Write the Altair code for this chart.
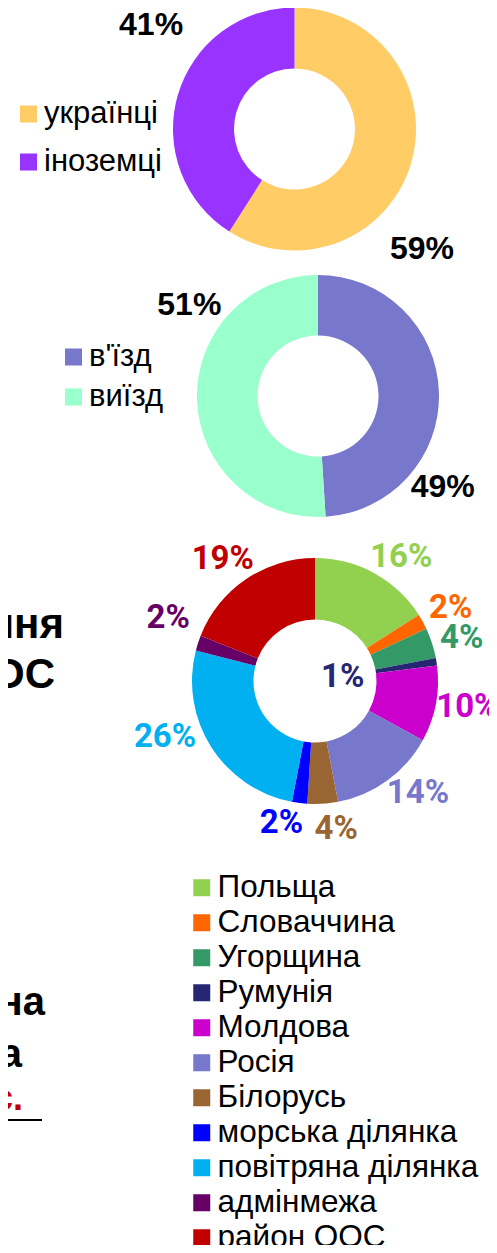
import math
import altair as alt
import pandas as pd

# ---- data ----
c1_cats = ["українці", "іноземці"]
c1_vals = [59, 41]
c1_colors = ["#FFCC66", "#9933FF"]

c2_cats = ["в'їзд", "виїзд"]
c2_vals = [49, 51]
c2_colors = ["#7777CC", "#99FFCC"]

c3_cats = ["Польща", "Словаччина", "Угорщина", "Румунія", "Молдова", "Росія",
           "Білорусь", "морська ділянка", "повітряна ділянка", "адмінмежа", "район ООС"]
c3_vals = [16, 2, 4, 1, 10, 14, 4, 2, 26, 2, 19]
c3_colors = ["#92D050", "#FF6600", "#339966", "#262673", "#CC00CC", "#7777CC",
             "#996633", "#0000FF", "#00B0F0", "#660066", "#C00000"]

side_texts = ["ння", "ОС", "на", "а", "с."]

# ---- layout / style ----
FONT = "Liberation Sans"
LABFONT3 = "Roboto"
TAU = 2 * math.pi
# label nudges (dx, dy) for the third ring, like the original "best fit" placement
C3_NUDGE = [(15, 6), (6, -2), (6, 3), (0, 0), (7, -2), (16, -8), (12, 0),
            (-15, -5), (-25, -23), (-6, -17), (-9, 0)]


def frame(cats, vals):
    return pd.DataFrame({"cat": cats, "value": vals, "idx": list(range(len(cats)))})


def leg(x, y, size, rowpad, off):
    return alt.Legend(orient="none", legendX=x, legendY=y, title=None,
                      symbolType="square", symbolSize=289, symbolStrokeWidth=0,
                      symbolOpacity=1, labelFont=FONT, labelFontSize=size,
                      labelColor="black", labelOffset=off, rowPadding=rowpad,
                      padding=0, labelLimit=400)


def ring(df, cats, colors, cx, cy, r0, r1, legend):
    return alt.Chart(df).mark_arc(innerRadius=r0, outerRadius=r1, strokeWidth=0).encode(
        x=alt.value(cx), y=alt.value(cy),
        theta=alt.Theta("value:Q", stack=True),
        order=alt.Order("idx:Q"),
        color=alt.Color("cat:N", scale=alt.Scale(domain=cats, range=colors), legend=legend),
    )


def labels(df, cx, cy, radius, rot_deg, font, size, dx=0, dy=0,
           cats=None, colors=None, cond="true"):
    rot = math.radians(rot_deg)
    base = (alt.Chart(df)
            .transform_window(cum="sum(value)", sort=[alt.SortField("idx")], frame=[None, 0])
            .transform_calculate(mid="datum.cum - datum.value / 2",
                                 lab="datum.value + '%'")
            .transform_filter(cond))
    props = dict(radius=radius, font=font, fontSize=size, fontWeight="bold",
                 dx=dx, dy=dy, align="center", baseline="middle")
    enc = dict(x=alt.value(cx), y=alt.value(cy),
               theta=alt.Theta("mid:Q", stack=False,
                               scale=alt.Scale(domain=[0, 100], range=[rot, rot + TAU])),
               text="lab:N")
    if cats is None:
        return base.mark_text(color="black", **props).encode(**enc)
    return base.mark_text(**props).encode(
        color=alt.Color("cat:N", scale=alt.Scale(domain=cats, range=colors), legend=None),
        **enc)


def frag(txt, x, y, size, color="black"):
    return alt.Chart(pd.DataFrame({"t": [txt]})).mark_text(
        align="right", baseline="alphabetic", font=FONT, fontSize=size,
        fontWeight="bold", color=color).encode(x=alt.value(x), y=alt.value(y), text="t:N")


d1, d2, d3 = frame(c1_cats, c1_vals), frame(c2_cats, c2_vals), frame(c3_cats, c3_vals)

layers = [
    ring(d1, c1_cats, c1_colors, 286.5, 121, 60.5, 121.5, leg(5, 90.5, 31, 16, 0)),
    labels(d1, 286.5, 121, 176, 23.5, FONT, 32, dx=-8, dy=8),
    ring(d2, c2_cats, c2_colors, 310, 388, 60.5, 121, leg(50, 333.5, 31, 8, 0)),
    labels(d2, 310, 388, 156, 37.5, FONT, 32, dx=-2),
    ring(d3, c3_cats, c3_colors, 307, 673, 61.5, 123, leg(178, 864, 31.5, 2.0, 0)),
]
for i, (ndx, ndy) in enumerate(C3_NUDGE):
    layers.append(labels(d3, 307, 673, 28 if c3_vals[i] < 1.5 else 148, 0, LABFONT3, 33,
                         dx=ndx, dy=ndy, cats=c3_cats, colors=c3_colors,
                         cond=f"datum.idx == {i}"))

layers += [
    frag(side_texts[0], 56, 630, 42),
    frag(side_texts[1], 47, 680, 42),
    frag(side_texts[2], 37, 1007, 40),
    frag(side_texts[3], 14, 1059, 40),
    frag(side_texts[4], 15, 1102, 36, color="#C00000"),
    alt.Chart(pd.DataFrame({"t": [0]})).mark_rule(color="black", strokeWidth=2).encode(
        x=alt.value(0), x2=alt.value(34), y=alt.value(1112)),
]

chart = (alt.layer(*layers)
         .resolve_scale(theta="independent", color="independent")
         .properties(width=481, height=1237, padding=0,
                     autosize=alt.AutoSizeParams(type="none"), background="white")
         .configure_view(stroke=None))

chart.save("out.html", embed_options={"renderer": "svg", "actions": False})
